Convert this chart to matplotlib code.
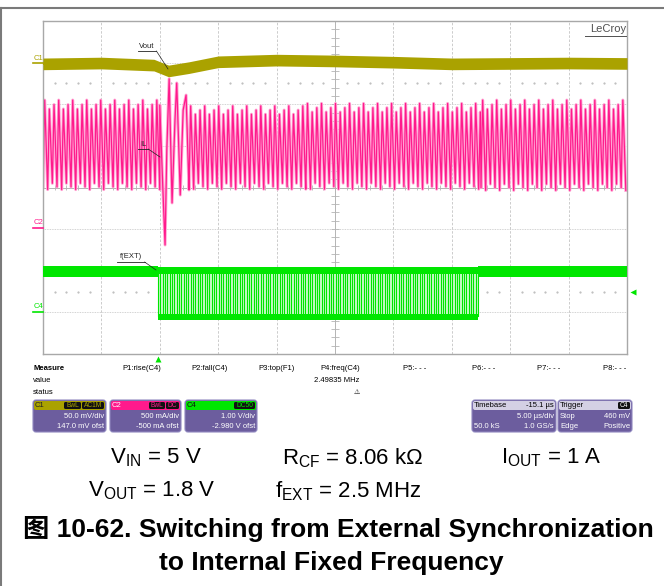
import numpy as np
import matplotlib
matplotlib.use('Agg')
import matplotlib.pyplot as plt
from matplotlib.patches import FancyBboxPatch

plt.rcParams['font.family'] = ['Liberation Sans', 'DejaVu Sans', 'Noto Sans CJK SC']
plt.rcParams['mathtext.fontset'] = 'custom'
plt.rcParams['mathtext.rm'] = 'Liberation Sans'
plt.rcParams['mathtext.it'] = 'Liberation Sans'

# ---- scope data, in divisions (10 x 8 grid) ----
period = 0.4 / 5.0          # 2.5 MHz at 5 us/div -> 0.08 div per cycle

# C1 Vout centre line
vout_t = [0, 1, 1.9, 2.15, 2.5, 3, 4, 5, 6, 7, 8, 9, 10]
vout_mid = [6.97, 6.99, 6.94, 6.80, 6.88, 7.02, 7.06, 7.04, 7.01, 6.97, 6.98, 6.99, 6.98]

# C2 inductor current: steady segments (start, end, top, bottom)
il_seg_t0 = [0.0, 2.5, 4.5, 7.5]
il_seg_t1 = [2.0, 4.5, 7.5, 10.0]
il_seg_top = [6.10, 5.96, 6.02, 6.10]
il_seg_bot = [3.95, 3.96, 3.96, 3.93]
# three displayed cycles (peaks differ from screen sampling)
il_cycle_t = [0.0, 0.36, 1.0, 1.36, 2.0, 2.36]
il_cycle_y = [0.03, 1.0, 0.0, 0.90, 0.07, 0.95]
il_cycle_n = 3
# transient at the hand-over
il_tr_t = [2.00, 2.05, 2.09, 2.12, 2.16, 2.21, 2.26, 2.29, 2.35, 2.40, 2.45, 2.50]
il_tr_y = [5.98, 4.06, 2.62, 4.90, 6.61, 3.63, 5.62, 6.51, 3.82, 5.86, 6.22, 3.94]

# C4 f(EXT) clock
fext_on = [1.97, 7.45]
fext_hi = 1.99
fext_lo = 0.91
fext_cycle_t = [0.0, 0.0, 0.5, 0.5]
fext_cycle_y = [0.0, 1.0, 1.0, 0.0]

# ---- text ----
meas_labels = ['P1:rise(C4)', 'P2:fall(C4)', 'P3:top(F1)', 'P4:freq(C4)',
               'P5:- - -', 'P6:- - -', 'P7:- - -', 'P8:- - -']
meas_value = '2.49835 MHz'
ch_names = ['C1', 'C2', 'C4']
ch_badges = [['BwL', 'AC1M'], ['BwL', 'DC'], ['DC50']]
ch_scale = ['50.0 mV/div', '500 mA/div', '1.00 V/div']
ch_ofst = ['147.0 mV ofst', '-500 mA ofst', '-2.980 V ofst']
params = [r'V$_{\mathrm{IN}}$ = 5 V', r'R$_{\mathrm{CF}}$ = 8.06 kΩ', r'I$_{\mathrm{OUT}}$ = 1 A',
          r'V$_{\mathrm{OUT}}$ = 1.8 V', r'f$_{\mathrm{EXT}}$ = 2.5 MHz']
caption = ['图 10-62. Switching from External Synchronization',
           'to Internal Fixed Frequency']

c1_col = '#aaa200'
c2_col = '#ff1a8c'
c4_col = '#00e600'
body = '#6c5d9e'


def tile_cycles(t0, t1, lo, hi, cyc_t, cyc_y, per=1):
    n = int(np.ceil((t1 - t0) / (period * per)))
    k = np.repeat(np.arange(n), len(cyc_t)) * per
    t = t0 + period * (k + np.tile(cyc_t, n))
    y = lo + (hi - lo) * np.tile(cyc_y, n)
    keep = t <= t1
    return t[keep], y[keep]


fig = plt.figure(figsize=(6.64, 5.86), dpi=100)
W, H = 664, 586
gx0, gx1, gy0, gy1 = 43, 627, 21, 354
ax = fig.add_axes([gx0 / W, 1 - gy1 / H, (gx1 - gx0) / W, (gy1 - gy0) / H])
ax.set_xlim(0, 10)
ax.set_ylim(0, 8)
ax.set_xticks([])
ax.set_yticks([])
for s in ax.spines.values():
    s.set_color('#a8a8a8')
    s.set_linewidth(1.0)

# grid
for i in range(1, 10):
    if i != 5:
        ax.axvline(i, color='#c4c4c4', lw=0.6, ls=(0, (3, 2)), zorder=0)
for j in range(1, 8):
    if j != 4:
        ax.axhline(j, color='#c4c4c4', lw=0.6, ls=(0, (1, 1)), zorder=0)
ax.axvline(5, color='#b4b4b4', lw=0.7, zorder=0)
ax.axhline(4, color='#b4b4b4', lw=0.7, zorder=0)
tk = np.arange(0.2, 10, 0.2)
ax.vlines(tk, 4 - 0.05, 4 + 0.05, color='#b4b4b4', lw=0.6, zorder=0)
tk = np.arange(0.2, 8, 0.2)
ax.hlines(tk, 5 - 0.07, 5 + 0.07, color='#b4b4b4', lw=0.6, zorder=0)
dots = np.array([i + 0.2 * j for i in range(10) for j in range(1, 5)])
for yy in [6.5, 1.5]:
    ax.plot(dots, np.full(dots.size, yy), ls='none', marker='s', ms=0.6, color='#c0c0c0', zorder=0)

# C1
vm = np.array(vout_mid)
ax.fill_between(vout_t, vm - 0.14, vm + 0.14, color=c1_col, lw=0, zorder=3)
ax.plot(vout_t, vm, color=c1_col, lw=1.5, zorder=3)

# C2
ts, ys = [], []
for a, b, hi, lo in zip(il_seg_t0, il_seg_t1, il_seg_top, il_seg_bot):
    t, y = tile_cycles(a, b, lo, hi, il_cycle_t, il_cycle_y, il_cycle_n)
    ts.append(t)
    ys.append(y)
    if a == 0.0:
        ts.append(np.array(il_tr_t))
        ys.append(np.array(il_tr_y))
il_t = np.concatenate(ts)
il_y = np.concatenate(ys)
ax.plot(il_t, il_y, color='#ffa6d4', lw=2.2, zorder=2)
ax.plot(il_t, il_y, color=c2_col, lw=0.9, zorder=2)

# C4
for a, b in [(0, fext_on[0]), (fext_on[1], 10)]:
    ax.fill_between([a, b], fext_hi - 0.13, fext_hi + 0.13, color=c4_col, lw=0, zorder=3)
t, y = tile_cycles(fext_on[0], fext_on[1], fext_lo, fext_hi, fext_cycle_t, fext_cycle_y)
ax.fill_between(fext_on, fext_lo, fext_hi, color='#c8f8c8', lw=0, zorder=2)
ax.plot(t, y, color=c4_col, lw=0.8, zorder=3)
ax.fill_between(fext_on, fext_hi - 0.07, fext_hi + 0.1, color=c4_col, lw=0, zorder=3)
ax.fill_between(fext_on, fext_lo - 0.1, fext_lo + 0.05, color=c4_col, lw=0, zorder=3)

# ---- overlay in pixel coordinates ----
ov = fig.add_axes([0, 0, 1, 1], facecolor='none')
ov.set_xlim(0, W)
ov.set_ylim(H, 0)
ov.axis('off')

ov.plot([0, W], [8, 8], color='#7a7a7a', lw=1.5)
ov.plot([1, 1], [8, H], color='#7a7a7a', lw=1.5)

fs = 5.5
ov.text(626, 29, 'LeCroy', fontsize=8, color='#505050', ha='right', va='center')
ov.plot([585, 626], [35.5, 35.5], color='#505050', lw=0.7)

# trace annotations
for txt, x, y, lx, ly in [('Vout', 147, 46, 168, 69), ('IL', 143, 144, 160, 157),
                          ('f(EXT)', 131, 257, 156, 270)]:
    ov.text(x, y, txt, fontsize=fs, ha='center', va='center', color='#222222')
    w = 4.2 * len(txt) + 2
    ov.plot([x - w / 2, x + w / 2], [y + 5, y + 5], color='#222222', lw=0.6)
    ov.plot([x + w / 2, lx], [y + 5, ly], color='#222222', lw=0.5)

# channel ground markers
for name, y, col in [('C1', 63, c1_col), ('C2', 228, c2_col), ('C4', 312, c4_col)]:
    ov.text(38, y - 5, name, fontsize=5.5, color=col, ha='center', va='center')
    ov.plot([33, 43], [y, y], color=col, lw=1.2)
ov.plot([158], [359], marker='^', ms=5, color=c4_col, mec='none')
ov.plot([633], [292], marker='<', ms=5, color=c4_col, mec='none')

# measure table
ov.text(33, 369, 'Measure', fontsize=fs, fontweight='bold', va='center')
ov.text(33, 381, 'value', fontsize=fs, va='center')
ov.text(33, 393, 'status', fontsize=fs, va='center')
for lab, x in zip(meas_labels, [122, 191, 258, 320, 403, 472, 537, 603]):
    ov.text(x, 369, lab, fontsize=fs, va='center')
ov.text(314, 381, meas_value, fontsize=fs, va='center')
ov.text(357, 392, '⚠', fontsize=5, va='center', ha='center', family='DejaVu Sans')


def panel(x0, x1, hdr):
    ov.add_patch(FancyBboxPatch((x0, 400), x1 - x0, 32, boxstyle='round,pad=0,rounding_size=3',
                                fc=body, ec='#9088c0', lw=0.8))
    ov.add_patch(FancyBboxPatch((x0 + 1, 401), x1 - x0 - 2, 9, boxstyle='round,pad=0,rounding_size=2',
                                fc=hdr, ec='none'))


def badge(x0, x1, txt, col):
    ov.add_patch(FancyBboxPatch((x0, 402), x1 - x0, 7, boxstyle='round,pad=0,rounding_size=1.5',
                                fc='#111111', ec='none'))
    ov.text((x0 + x1) / 2, 405.5, txt, fontsize=4.8, color=col, ha='center', va='center')


ch_box = [(33, 106), (110, 181), (185, 257)]
ch_col = [c1_col, c2_col, c4_col]
name_col = ['#222222', 'white', '#111111']
badge_x = [[(64, 81), (82, 104)], [(149, 165), (166, 179)], [(234, 255)]]
for i in range(3):
    x0, x1 = ch_box[i]
    panel(x0, x1, ch_col[i])
    ov.text(x0 + 2, 405.5, ch_names[i], fontsize=fs, color=name_col[i], va='center')
    for (bx0, bx1), b in zip(badge_x[i], ch_badges[i]):
        badge(bx0, bx1, b, ch_col[i])
    ov.text(x1 - 2, 416, ch_scale[i], fontsize=fs, color='white', ha='right', va='center')
    ov.text(x1 - 2, 427, ch_ofst[i], fontsize=fs, color='white', ha='right', va='center')

panel(472, 556, '#d4d0e4')
ov.text(474, 405.5, 'Timebase', fontsize=fs, va='center')
ov.text(554, 405.5, '-15.1 µs', fontsize=fs, va='center', ha='right')
ov.text(554, 416, '5.00 µs/div', fontsize=fs, color='white', ha='right', va='center')
ov.text(474, 427, '50.0 kS', fontsize=fs, color='white', va='center')
ov.text(554, 427, '1.0 GS/s', fontsize=fs, color='white', ha='right', va='center')

panel(558, 632, '#d4d0e4')
ov.text(560, 405.5, 'Trigger', fontsize=fs, va='center')
badge(618, 630, 'C4', 'white')
ov.text(560, 416, 'Stop', fontsize=fs, color='white', va='center')
ov.text(630, 416, '460 mV', fontsize=fs, color='white', ha='right', va='center')
ov.text(560, 427, 'Edge', fontsize=fs, color='white', va='center')
ov.text(630, 427, 'Positive', fontsize=fs, color='white', ha='right', va='center')

# test conditions and caption
for txt, x, y in zip(params, [156, 353, 551, 152, 348], [458, 458, 458, 491, 491]):
    ov.text(x, y, txt, fontsize=16, ha='center', va='center')
ov.text(338, 529, caption[0], fontsize=19, fontweight='bold', ha='center', va='center')
ov.text(331, 563, caption[1], fontsize=19, fontweight='bold', ha='center', va='center')

fig.savefig('out.png', dpi=100)
